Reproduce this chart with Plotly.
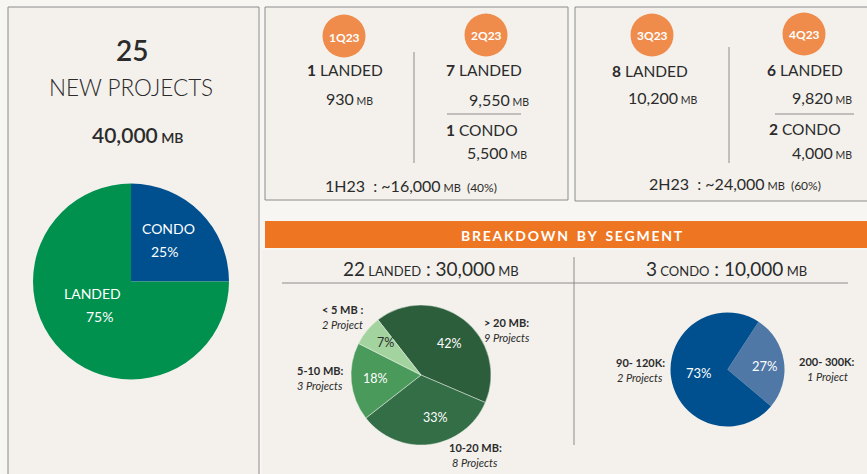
import plotly.graph_objects as go

W, H = 867, 474

# ---------------- data ----------------
total_projects = 25
total_value = 40000
segment_labels = ["CONDO", "LANDED"]
segment_share = [25, 75]

quarters = ["1Q23", "2Q23", "3Q23", "4Q23"]
landed_counts = [1, 7, 8, 6]
landed_values = [930, 9550, 10200, 9820]
condo_counts = [0, 1, 0, 2]
condo_values = [0, 5500, 0, 4000]

halves = ["1H23", "2H23"]
half_values = [16000, 24000]
half_share = [40, 60]

landed_total_projects = 22
landed_total_value = 30000
landed_bins = ["> 20 MB:", "10-20 MB:", "5-10 MB:", "< 5 MB :"]
landed_bin_share = [42, 33, 18, 7]
landed_bin_projects = ["9 Projects", "8 Projects", "3 Projects", "2 Project"]

condo_total_projects = 3
condo_total_value = 10000
condo_bins = ["200- 300K:", "90- 120K:"]
condo_bin_share = [27, 73]
condo_bin_projects = ["1 Project", "2 Projects"]

# ---------------- helpers ----------------
FONT = "Lato"
TXT = "#2b2b2b"
BORDER = "#8c8c8c"
PANEL = "#f4f1ec"
ORANGE = "#ee7623"
CIRCLE = "#ef8c4b"


def X(p):
    return p / W


def Y(p):
    return 1 - p / H


def dom(cx, cy, r):
    return dict(x=[X(cx - r), X(cx + r)], y=[Y(cy + r), Y(cy - r)])


def mb(v, small=10):
    return f"{v:,}<span style='font-size:{small}px'> MB</span>"


annotations = []
shapes = []


def ann(x, y, text, size=14, color=TXT, xanchor="center", bold=False, italic=False, weight=None):
    f = dict(family=FONT, size=size, color=color)
    if weight is not None:
        f["weight"] = weight
    elif bold:
        f["weight"] = "bold"
    if italic:
        f["style"] = "italic"
    annotations.append(dict(x=X(x), y=Y(y), xref="paper", yref="paper", text=text,
                            showarrow=False, xanchor=xanchor, yanchor="middle", font=f))


def rect(x0, y0, x1, y1, fill=PANEL, line=BORDER, lw=1):
    shapes.append(dict(type="rect", xref="paper", yref="paper", x0=X(x0), x1=X(x1),
                       y0=Y(y1), y1=Y(y0), fillcolor=fill,
                       line=dict(color=line, width=lw), layer="below"))


def line(x0, y0, x1, y1, color=BORDER, lw=1):
    shapes.append(dict(type="line", xref="paper", yref="paper", x0=X(x0), x1=X(x1),
                       y0=Y(y0), y1=Y(y1), line=dict(color=color, width=lw), layer="below"))


def circle(cx, cy, r, color=CIRCLE):
    shapes.append(dict(type="circle", xref="paper", yref="paper", x0=X(cx - r), x1=X(cx + r),
                       y0=Y(cy + r), y1=Y(cy - r), fillcolor=color, line=dict(width=0), layer="above"))


# ---------------- panels ----------------
rect(8, 7, 259, 480)
rect(265, 7, 568, 200)
rect(575, 7, 869, 201)
rect(262, 250, 869, 480, line=PANEL, lw=0)
rect(265, 221, 869, 248, fill=ORANGE, line=ORANGE, lw=0)

# ---------------- left panel ----------------
ann(132, 50, f"{total_projects}", size=28, weight=600)
ann(131, 88, "NEW PROJECTS", size=22.5, weight=300)
ann(138, 135, f"{total_value:,}<span style='font-size:14px'> MB</span>", size=21, weight=600)

# ---------------- quarter boxes ----------------
q_cx = [344, 486, 652, 804]
q_cy = [36, 35, 35, 34]
for i, q in enumerate(quarters):
    circle(q_cx[i], q_cy[i], 21.5)
    ann(q_cx[i], q_cy[i] + 1, q, size=12, color="white", bold=True)

land_xy = [(345, 70), (484, 70), (650, 71), (805, 70)]
landv_xy = [(349, 98), (499, 99), (662, 97), (822, 97)]
condo_xy = {1: (482, 130), 3: (805, 129)}
condov_xy = {1: (497, 153), 3: (822, 152)}
for i in range(4):
    ann(*land_xy[i], f"<b>{landed_counts[i]}</b> LANDED", size=15.5)
    ann(*landv_xy[i], mb(landed_values[i], small=10.5), size=16)
    if condo_counts[i]:
        ann(*condo_xy[i], f"<b>{condo_counts[i]}</b> CONDO", size=15.5)
        ann(*condov_xy[i], mb(condo_values[i], small=10.5), size=16)

line(414, 52, 414, 163)
line(447, 114, 521, 114)
line(729, 47, 729, 163)
line(775, 114, 854, 114)

half_xy = [(411, 185), (735, 184)]
for i, h in enumerate(halves):
    ann(*half_xy[i],
        f"{h}  : ~{half_values[i]:,}<span style='font-size:11px'> MB</span>"
        f"<span style='font-size:12px'>  ({half_share[i]}%)</span>", size=16)

# ---------------- breakdown banner ----------------
banner = "BREAKDOWN BY SEGMENT"
spaced = "\u2009".join(banner).replace("\u2009 \u2009", "\u2009\u2009 \u2009")
ann(572, 235, spaced, size=14, color="white", bold=True)

ann(431, 268, f"{landed_total_projects}<span style='font-size:13px'> LANDED</span> : "
    f"{landed_total_value:,}<span style='font-size:13px'> MB</span>", size=19)
ann(726, 268, f"{condo_total_projects}<span style='font-size:13px'> CONDO</span> : "
    f"{condo_total_value:,}<span style='font-size:13px'> MB</span>", size=19)
line(282, 283, 848, 283)
line(574, 257, 574, 445)

# ---------------- pies ----------------
fig = go.Figure()

fig.add_trace(go.Pie(labels=segment_labels, values=segment_share, sort=False,
                     direction="clockwise", rotation=0,
                     marker=dict(colors=["#00508f", "#00914f"], line=dict(width=0)),
                     textinfo="none", hoverinfo="label+percent",
                     domain=dom(131, 281.5, 98), showlegend=False))
seg_lbl_xy = [((168, 228), (164, 251)), ((92, 293), (99, 316))]
for i, lab in enumerate(segment_labels):
    ann(*seg_lbl_xy[i][0], lab, size=14, color="white")
    ann(*seg_lbl_xy[i][1], f"{segment_share[i]}%", size=14, color="white")

fig.add_trace(go.Pie(labels=landed_bins, values=landed_bin_share, sort=False,
                     direction="clockwise", rotation=-38,
                     marker=dict(colors=["#2d5e3c", "#336e46", "#4a9a5c", "#a3d49f"],
                                 line=dict(width=0.5, color="#e8efe6")),
                     textinfo="none", hoverinfo="label+percent",
                     domain=dom(421, 375, 70), showlegend=False))
lb_pct_xy = [(449, 343), (435, 417), (375, 378), (385, 342)]
lb_pct_col = ["white", "white", "white", "#2b2b2b"]
lb_lab_xy = [(507, 322), (475, 447), (320, 370), (342, 309)]
for i in range(len(landed_bins)):
    ann(*lb_pct_xy[i], f"{landed_bin_share[i]}%", size=12.5, color=lb_pct_col[i])
    ann(*lb_lab_xy[i], landed_bins[i], size=11, bold=True)
    ann(lb_lab_xy[i][0], lb_lab_xy[i][1] + 15, landed_bin_projects[i], size=11, italic=True)

fig.add_trace(go.Pie(labels=condo_bins, values=condo_bin_share, sort=False,
                     direction="clockwise", rotation=33,
                     marker=dict(colors=["#5078a6", "#00508f"], line=dict(width=0)),
                     textinfo="none", hoverinfo="label+percent",
                     domain=dom(727.5, 369.5, 57), showlegend=False))
cb_pct_xy = [(765, 366), (699, 373)]
cb_lab_xy = [(827, 361), (640, 362)]
for i in range(len(condo_bins)):
    ann(*cb_pct_xy[i], f"{condo_bin_share[i]}%", size=13, color="white")
    ann(*cb_lab_xy[i], condo_bins[i], size=11, bold=True)
    ann(cb_lab_xy[i][0], cb_lab_xy[i][1] + 15, condo_bin_projects[i], size=11, italic=True)

fig.update_layout(width=W, height=H, margin=dict(l=0, r=0, t=0, b=0),
                  paper_bgcolor="#f8f6f3", plot_bgcolor="#f8f6f3",
                  font=dict(family=FONT, color=TXT),
                  shapes=shapes, annotations=annotations, showlegend=False)

fig.write_html("out.html")
